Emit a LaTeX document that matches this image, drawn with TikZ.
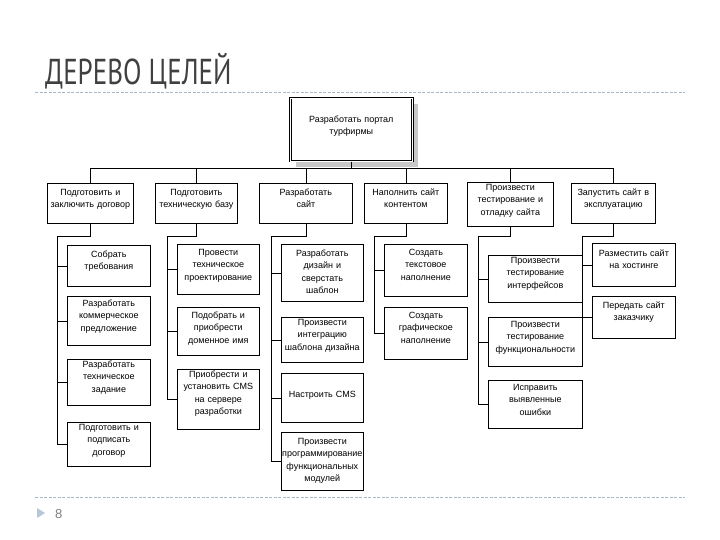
\documentclass[tikz,border=0pt]{standalone}
\usepackage{fontspec}
\usepackage{tikz}
\setmainfont{Liberation Sans}
\newfontfamily\titlefont[FakeStretch=0.75]{PT Sans}
\definecolor{rulecol}{RGB}{170, 184, 198}
\definecolor{markcol}{RGB}{180, 198, 216}
\definecolor{titlecol}{RGB}{64, 64, 64}
\definecolor{shadowcol}{RGB}{200, 200, 200}

\tikzset{
    goal/.style={draw, line width=0.7pt, fill=white, anchor=north west, align=center,
        inner xsep=0pt, inner ysep=0pt, text height=11pt,
        font=\fontsize{9}{12.5}\selectfont},
    link/.style={line width=0.7pt},
    rule/.style={rulecol, line width=0.6pt, dash pattern=on 3pt off 1.5pt}
}

\begin{document}
\begin{tikzpicture}[x=1pt, y=-1pt]
    \useasboundingbox (0,0) rectangle (720,540);

    % Title and rules
    \node[anchor=base west, inner sep=0pt, text=titlecol, font=\titlefont\fontsize{36}{40}\selectfont] (title) at (45,85) {ДЕРЕВО ЦЕЛЕЙ};
    \draw[rule] (35,92) -- (685,92);
    \draw[rule] (35,497) -- (685,497);
    \fill[markcol] (37,508) -- (45,513) -- (37,518) -- cycle;
    \node[anchor=base west, inner sep=0pt, text=gray, font=\fontsize{13}{15}\selectfont] (page) at (55,518) {8};

    % Root goal
    \fill[shadowcol] (296,104) rectangle (418,167);
    \node[goal, double, double distance=1.2pt, line width=0.6pt, text width=122pt, text height=24pt, text depth=39pt] (root) at (290,98) {Разработать портал\\турфирмы};

    % First level
    \node[goal, text width=86pt, text height=12pt, text depth=28pt] (a1) at (47,183) {Подготовить и\\заключить договор};
    \node[goal, text width=82pt, text height=12pt, text depth=28pt] (a2) at (155,183) {Подготовить\\техническую базу};
    \node[goal, text width=93pt, text height=12pt, text depth=28pt] (a3) at (259,183) {Разработать\\сайт};
    \node[goal, text width=83pt, text height=12pt, text depth=28pt] (a4) at (364,183) {Наполнить сайт\\контентом};
    \node[goal, text width=86pt, text height=8pt, text depth=36pt] (a5) at (467,182) {Произвести\\тестирование и\\отладку сайта};
    \node[goal, text width=84pt, text height=12pt, text depth=28pt] (a6) at (571,183) {Запустить сайт в\\эксплуатацию};

    \coordinate (top) at (0,168);
    \coordinate (lvl) at (0,236);
    \draw[link] (root.south) -- (root.south |- top);
    \draw[link] (a1.north) |- (a6.north |- top) -- (a6.north);
    \foreach \n in {2,3,4,5}
        \draw[link] (a\n.north) -- (a\n.north |- top);

    % Column 1
    \node[goal, text width=83pt, text height=12pt, text depth=29pt] (c11) at (67,245) {Собрать\\требования};
    \node[goal, text width=83pt, text height=10pt, text depth=39pt] (c12) at (67,296) {Разработать\\коммерческое\\предложение};
    \node[goal, text width=83pt, text height=8pt, text depth=38pt] (c13) at (67,359) {Разработать\\техническое\\задание};
    \node[goal, text width=83pt, text height=8pt, text depth=36pt] (c14) at (67,422) {Подготовить и\\подписать\\договор};

    % Column 2
    \node[goal, text width=82pt, text depth=39pt] (c21) at (177,244) {Провести\\техническое\\проектирование};
    \node[goal, text width=82pt, text depth=37pt] (c22) at (177,307) {Подобрать и\\приобрести\\доменное имя};
    \node[goal, text width=82pt, text height=8pt, text depth=52pt] (c23) at (177,369) {Приобрести и\\установить CMS\\на сервере\\разработки};

    % Column 3
    \node[goal, text width=82pt, text height=12pt, text depth=45pt] (c31) at (281,244) {Разработать\\дизайн и\\сверстать\\шаблон};
    \node[goal, text width=82pt, text height=8pt, text depth=37pt] (c32) at (281,317) {Произвести\\интеграцию\\шаблона дизайна};
    \node[goal, text width=82pt, text height=24pt, text depth=25pt] (c33) at (281,373) {Настроить CMS};
    \node[goal, text width=82pt, text height=12pt, text depth=46pt] (c34) at (281,432) {Произвести\\программирование\\функциональных\\модулей};

    % Column 4
    \node[goal, text width=83pt, text depth=41pt] (c41) at (384,244) {Создать\\текстовое\\наполнение};
    \node[goal, text width=83pt, text depth=41pt] (c42) at (384,307) {Создать\\графическое\\наполнение};

    % Column 5
    \node[goal, text width=94pt, text height=8pt, text depth=39pt] (c51) at (488,255) {Произвести\\тестирование\\интерфейсов};
    \node[goal, text width=94pt, text height=10pt, text depth=39pt] (c52) at (488,317) {Произвести\\тестирование\\функциональности};
    \node[goal, text width=94pt, text height=10pt, text depth=38pt] (c53) at (488,380) {Исправить\\выявленные\\ошибки};

    % Column 6
    \node[goal, text width=83pt, text height=13pt, text depth=30pt] (c61) at (592,243) {Разместить сайт\\на хостинге};
    \node[goal, text width=83pt, text height=12pt, text depth=30pt] (c62) at (592,296) {Передать сайт\\заказчику};

    % Branches
    \draw[link] (a1.south) -- (a1.south |- lvl) -| ([xshift=-10pt]c14.west);
    \draw[link] (a2.south) -- (a2.south |- lvl) -| ([xshift=-10pt]c23.west);
    \draw[link] (a3.south) -- (a3.south |- lvl) -| ([xshift=-10pt]c34.west);
    \draw[link] (a4.south) -- (a4.south |- lvl) -| ([xshift=-10pt]c42.west);
    \draw[link] (a5.south) -- (a5.south |- lvl) -| ([xshift=-10pt]c53.west);
    \draw[link] (a6.south) -- (a6.south |- lvl) -| ([xshift=-10pt]c62.west);
    \foreach \c in {c11,c12,c13,c14,c21,c22,c23,c31,c32,c33,c34,c41,c42,c51,c52,c53,c61,c62}
        \draw[link] (\c.west) -- ++(-10,0);
\end{tikzpicture}
\end{document}
